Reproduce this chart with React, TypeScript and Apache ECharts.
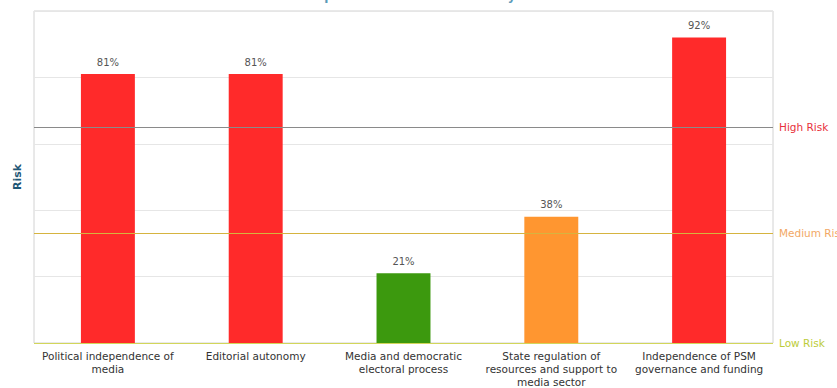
import React, { useEffect, useRef } from "react";
import * as echarts from "echarts";

const categories = [
  "Political independence of\nmedia",
  "Editorial autonomy",
  "Media and democratic\nelectoral process",
  "State regulation of\nresources and support to\nmedia sector",
  "Independence of PSM\ngovernance and funding",
];
const values = [81, 81, 21, 38, 92];
const barColors = ["#ff2a2a", "#ff2a2a", "#3c990e", "#ff9630", "#ff2a2a"];
const thresholds = [
  { name: "High Risk", value: 65, line: "#8a8a8a", text: "#e8303c" },
  { name: "Medium Risk", value: 33, line: "#d6b440", text: "#f2a865" },
  { name: "Low Risk", value: 0, line: "#d2d65a", text: "#bccc3a" },
];
const titleText = "Political Independence area: risk level by indicator";

export default function App() {
  const ref = useRef<HTMLDivElement>(null);
  useEffect(() => {
    document.body.style.margin = "0";
    const chart = echarts.init(ref.current!, null, { renderer: "svg" });
    chart.setOption({
      animation: false,
      backgroundColor: "#ffffff",
      title: {
        text: titleText,
        left: 403,
        textAlign: "center",
        top: -15,
        textStyle: { fontFamily: "DejaVu Sans", fontSize: 12, fontWeight: "bold", color: "#5a9ab8" },
      },
      grid: {
        left: 34,
        right: 64,
        top: 11,
        bottom: 44,
        show: true,
        borderColor: "#d2d2d2",
        borderWidth: 1,
      },
      xAxis: {
        type: "category",
        data: categories,
        axisLine: { show: false },
        axisTick: { show: false },
        axisLabel: {
          interval: 0,
          margin: 6,
          fontFamily: "DejaVu Sans",
          fontSize: 10.5,
          lineHeight: 13,
          color: "#333333",
        },
      },
      yAxis: {
        type: "value",
        min: 0,
        max: 100,
        interval: 20,
        axisLabel: { show: false },
        axisLine: { show: false },
        axisTick: { show: false },
        splitLine: { lineStyle: { color: "#e6e6e6", width: 1 } },
        name: "Risk",
        nameLocation: "middle",
        nameGap: 11,
        nameTextStyle: { fontFamily: "DejaVu Sans", fontSize: 11, fontWeight: "bold", color: "#1f5775" },
      },
      series: [
        {
          type: "bar",
          barWidth: "36.5%",
          data: values.map((v, i) => ({ value: v, itemStyle: { color: barColors[i] } })),
          label: {
            show: true,
            position: "top",
            distance: 7,
            formatter: "{c}%",
            fontFamily: "DejaVu Sans",
            fontSize: 10,
            color: "#555555",
          },
        },
        ...thresholds.map((t) => ({
          type: "line",
          data: [],
          color: t.line,
          markLine: {
            silent: true,
            symbol: "none",
            lineStyle: { color: t.line, type: "solid", width: 1 },
            label: {
              show: true,
              position: "end",
              distance: 6,
              formatter: t.name,
              fontFamily: "DejaVu Sans",
              fontSize: 10.5,
              color: t.text,
            },
            data: [{ yAxis: t.value }],
          },
        })),
      ],
    });
    return () => chart.dispose();
  }, []);
  return <div ref={ref} style={{ width: 837, height: 388 }} />;
}
